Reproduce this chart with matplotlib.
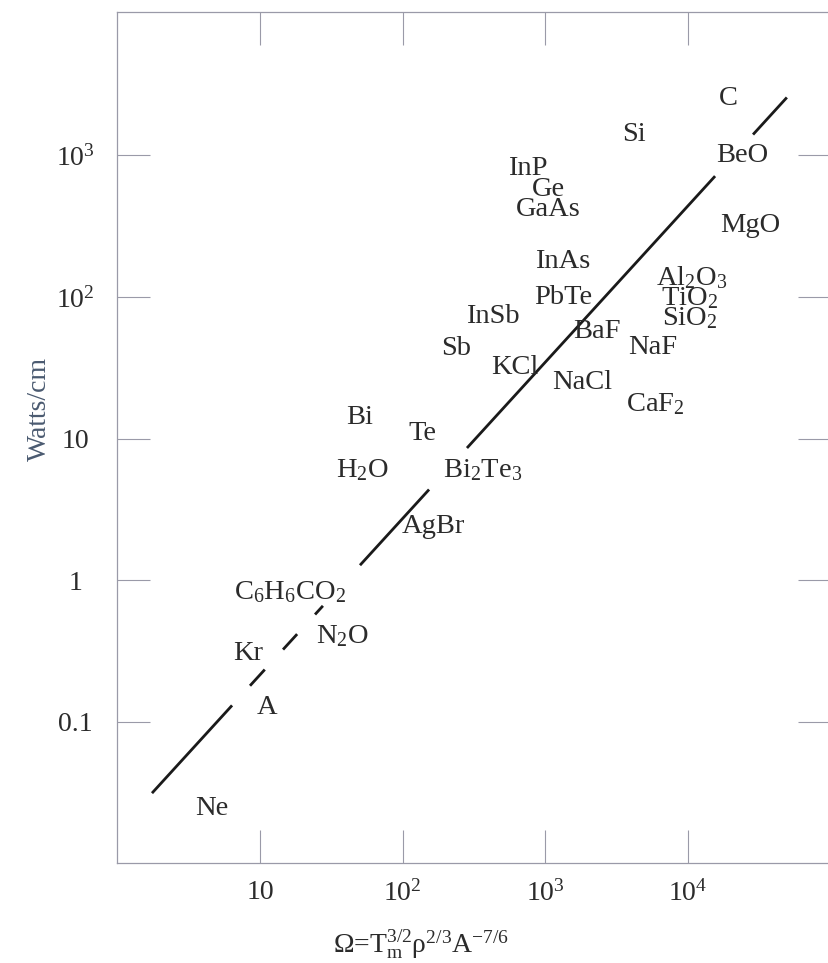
import numpy as np
import matplotlib
matplotlib.use("Agg")
from matplotlib import pyplot as plt
from matplotlib.ticker import FixedLocator, FixedFormatter, NullLocator

plt.rcParams['font.family'] = ['Liberation Serif', 'DejaVu Serif']
plt.rcParams['mathtext.fontset'] = 'custom'
plt.rcParams['mathtext.rm'] = 'Liberation Serif'
plt.rcParams['mathtext.it'] = 'Liberation Serif:italic'
plt.rcParams['mathtext.default'] = 'regular'

# material labels and their (Omega, Watts/cm) positions
materials = ["C", "Si", "BeO", "InP", "Ge", "GaAs", "MgO", "InAs",
             r"Al$_2$O$_3$", "PbTe", r"TiO$_2$", "InSb", r"SiO$_2$", "BaF",
             "Sb", "NaF", "KCl", "NaCl", r"CaF$_2$", "Bi", "Te", r"H$_2$O",
             r"Bi$_2$Te$_3$", "AgBr", r"C$_6$H$_6$CO$_2$", r"N$_2$O", "Kr", "A", "Ne"]
omega = [1.9e4, 4180, 2.39e4, 755, 1042, 1042, 2.71e4, 1328,
         1.065e4, 1328, 1.03e4, 430, 1.03e4, 2300,
         236, 5680, 612, 1804, 5860, 50.2, 136.5, 51.8,
         365, 163, 16.2, 37.6, 8.24, 11.2, 4.61]
watts = [2530, 1407, 1000, 809, 575, 416, 321, 178,
         137, 99, 97.7, 73, 70.6, 57.2,
         43.4, 44.1, 31.8, 24.9, 17.5, 14.1, 10.9, 5.96,
         5.96, 2.40, 0.820, 0.401, 0.304, 0.1265, 0.0244]

# fitted line W = k * Omega^n, drawn in pieces (gaps where the original is broken)
fit_k = 0.0168
fit_n = 1.105
line_segments = [(1.75, 6.37), (8.51, 10.8), (14.5, 18.2), (24.3, 27.6),
                 (50.2, 153), (282, 15450), (28500, 49200)]

xticks = [10, 100, 1000, 10000]
xticklabels = ["10", r"10$^2$", r"10$^3$", r"10$^4$"]
yticks = [0.1, 1, 10, 100, 1000]
yticklabels = ["0.1", "1", "10", r"10$^2$", r"10$^3$"]

fig = plt.figure(figsize=(8.29, 9.63), dpi=100)
ax = fig.add_axes([0.1415, 0.1038, 0.8607, 0.8842])
ax.set_xscale("log")
ax.set_yscale("log")
ax.set_xlim(1, 1e5)
ax.set_ylim(0.01, 1.04e4)

for x0, x1 in line_segments:
    xs = np.geomspace(x0, x1, 20)
    ax.plot(xs, fit_k * xs ** fit_n, color="#1a1a1a", lw=2.0, solid_capstyle="butt")

txt = "#2b2b2b"
for name, x, y in zip(materials, omega, watts):
    ax.text(x, y, name, fontsize=20.5, color=txt, ha="center", va="center")

spine_c = "#9a9aa8"
for s in ax.spines.values():
    s.set_color(spine_c)
    s.set_linewidth(0.9)

ax.xaxis.set_major_locator(FixedLocator(xticks))
ax.xaxis.set_major_formatter(FixedFormatter(xticklabels))
ax.xaxis.set_minor_locator(NullLocator())
ax.yaxis.set_major_locator(FixedLocator(yticks))
ax.yaxis.set_major_formatter(FixedFormatter(yticklabels))
ax.yaxis.set_minor_locator(NullLocator())

ax.tick_params(which="major", direction="in", length=24, width=0.8, color=spine_c,
               top=True, right=True, labelsize=20, labelcolor=txt)
ax.tick_params(axis="x", pad=12)
ax.tick_params(axis="y", pad=30)
for lab in ax.get_yticklabels():
    lab.set_ha("center")

ax.set_xlabel(r"$\Omega$=T$_m^{3/2}\rho^{2/3}$A$^{-7/6}$", fontsize=20, color=txt)
ax.xaxis.set_label_coords(0.426, -0.0765)
ax.set_ylabel("Watts/cm", fontsize=20, color="#4a5a70")
ax.yaxis.set_label_coords(-0.091, 0.533)

plt.savefig("out.png", dpi=100)
